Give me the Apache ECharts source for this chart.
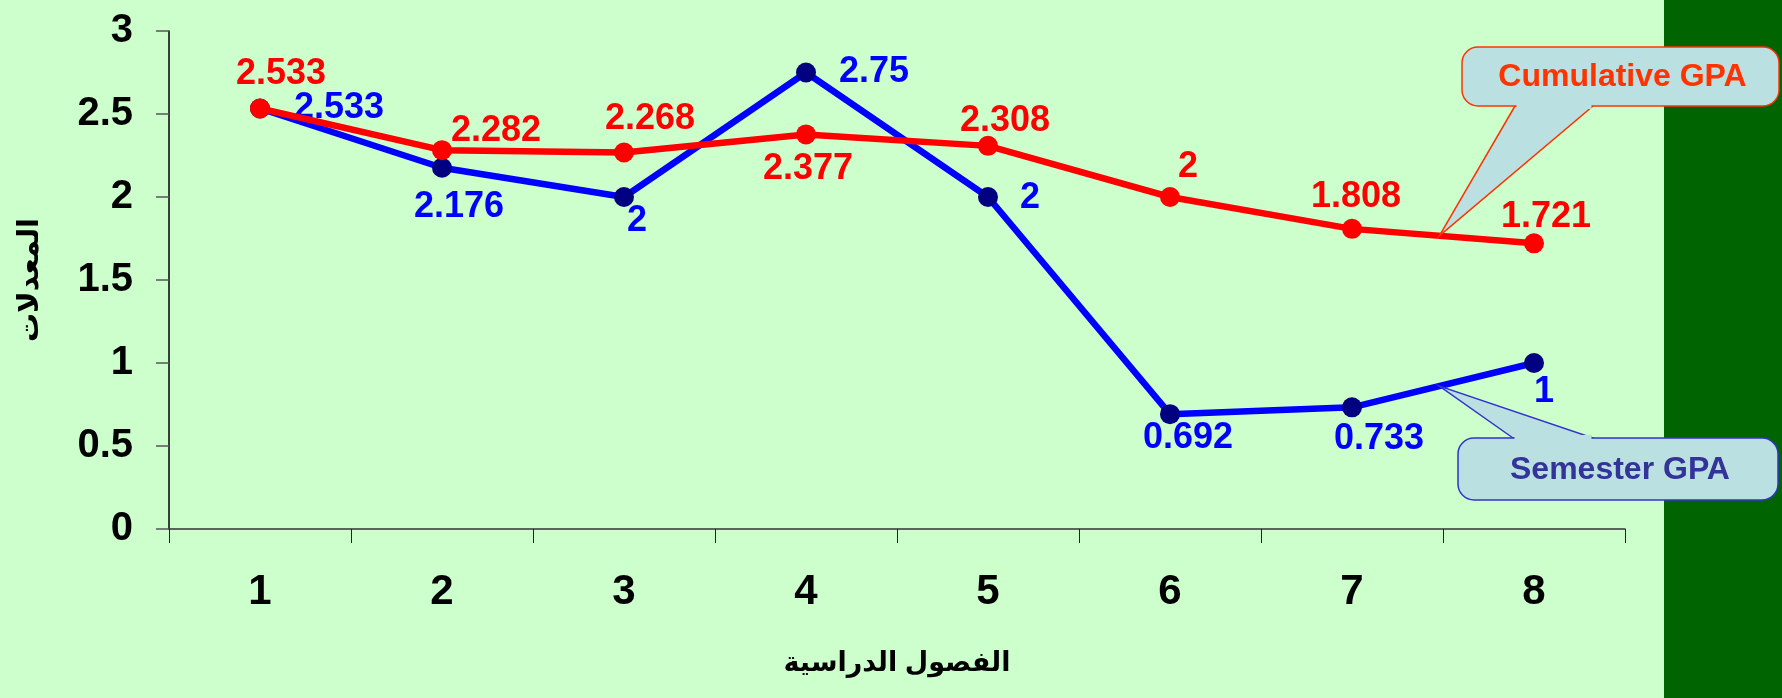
<!DOCTYPE html>
<html><head><meta charset="utf-8">
<script src="https://cdn.jsdelivr.net/npm/echarts@6/dist/echarts.min.js"></script>
<style>html,body{margin:0;padding:0;background:#CCFFCC}#c{width:1782px;height:698px}</style>
</head><body><div id="c"></div>
<script>
// ---- data ----
const semesters = ['1', '2', '3', '4', '5', '6', '7', '8'];
const semesterGPA = [2.533, 2.176, 2, 2.75, 2, 0.692, 0.733, 1];
const cumulativeGPA = [2.533, 2.282, 2.268, 2.377, 2.308, 2, 1.808, 1.721];
const seriesNames = ['Semester GPA', 'Cumulative GPA'];
const xAxisTitle = 'الفصول الدراسية';
const yAxisTitle = 'المعدلات';
const yMin = 0, yMax = 3, yStep = 0.5;

// ---- layout (label offsets from each point, px) ----
const semLabelOffsets = [[79, 0], [17, 39], [13, 24], [68, 0], [42, 1], [18, 24], [27, 32], [10, 29]];
const cumLabelOffsets = [[21, -34], [54, -19], [26, -33], [2, 35], [17, -25], [18, -30], [4, -32], [12, -26]];

const FONT = 'Arial, "Liberation Sans", sans-serif';
const chart = echarts.init(document.getElementById('c'), null, {renderer: 'canvas'});

function mkData(vals, offs) {
  return vals.map((v, i) => ({value: v, label: {offset: offs[i]}}));
}

const option = {
  animation: false,
  backgroundColor: '#CCFFCC',
  grid: {left: 169, right: 157, top: 31, bottom: 169},
  xAxis: {
    type: 'category',
    data: semesters,
    boundaryGap: true,
    axisLine: {lineStyle: {color: '#333', width: 1.5}},
    axisTick: {show: true, alignWithLabel: false, length: 14, lineStyle: {color: '#222', width: 1}},
    axisLabel: {color: '#000', fontSize: 42, fontWeight: 'bold', fontFamily: '"Liberation Sans Narrow", "Arial Narrow", ' + FONT, margin: 42},
    name: xAxisTitle,
    nameLocation: 'middle',
    nameGap: 121,
    nameTextStyle: {color: '#000', fontSize: 27, fontWeight: 'bold', fontFamily: FONT + ', "DejaVu Sans"'},
    splitLine: {show: false}
  },
  yAxis: {
    type: 'value',
    min: yMin, max: yMax, interval: yStep,
    axisLine: {show: true, lineStyle: {color: '#000', width: 1.5}},
    axisTick: {show: true, length: 13, lineStyle: {color: '#555', width: 1.5}},
    axisLabel: {color: '#000', fontSize: 40, fontWeight: 'bold', fontFamily: FONT, margin: 36},
    splitLine: {show: false},
    name: yAxisTitle,
    nameLocation: 'middle',
    nameRotate: 90,
    nameGap: 125,
    nameTextStyle: {color: '#000', fontSize: 29, fontWeight: 'bold', fontFamily: FONT + ', "DejaVu Sans"'}
  },
  series: [
    {
      name: seriesNames[0], type: 'line', data: mkData(semesterGPA, semLabelOffsets),
      symbol: 'circle', symbolSize: 20, z: 2,
      lineStyle: {color: '#0000FF', width: 6.5},
      itemStyle: {color: '#000080'},
      label: {show: true, position: 'inside', color: '#0000FF', fontSize: 36, fontWeight: 'bold', fontFamily: FONT}
    },
    {
      name: seriesNames[1], type: 'line', data: mkData(cumulativeGPA, cumLabelOffsets),
      symbol: 'circle', symbolSize: 20, z: 3,
      lineStyle: {color: '#FF0000', width: 6.5},
      itemStyle: {color: '#FF0000'},
      label: {show: true, position: 'inside', color: '#FF0000', fontSize: 36, fontWeight: 'bold', fontFamily: FONT}
    }
  ]
};
chart.setOption(option);

// callout tips computed from the data through the chart's own scales
function tipOn(series, i, t) {
  const a = chart.convertToPixel({gridIndex: 0}, [i, series[i]]);
  const b = chart.convertToPixel({gridIndex: 0}, [i + 1, series[i + 1]]);
  return [a[0] + (b[0] - a[0]) * t, a[1] + (b[1] - a[1]) * t];
}

function callout(box, base, tip, pointerDown, stroke, text, textColor) {
  const [x0, y0, x1, y1] = box;
  const by = pointerDown ? y1 : y0;
  const fill = '#BAE0E2';
  return [
    {type: 'polygon', z: 100, shape: {points: [[base[0], by], tip, [base[1], by]]},
      style: {fill: fill, stroke: stroke, lineWidth: 1.5}},
    {type: 'rect', z: 101, shape: {x: x0, y: y0, width: x1 - x0, height: y1 - y0, r: 16},
      style: {fill: fill, stroke: stroke, lineWidth: 1.5}},
    {type: 'rect', z: 102, shape: {x: base[0] + 1.5, y: by - 3, width: base[1] - base[0] - 3, height: 6},
      style: {fill: fill}},
    {type: 'text', z: 103, x: (x0 + x1) / 2 + 2, y: (y0 + y1) / 2 + 1,
      style: {text: text, fill: textColor, font: 'bold 32px ' + FONT, align: 'center', verticalAlign: 'middle'}}
  ];
}

const cumTip = tipOn(cumulativeGPA, 6, 0.48);
const semTip = tipOn(semesterGPA, 6, 0.48);

chart.setOption({
  graphic: [
    {type: 'rect', z: -1, shape: {x: 1664, y: 0, width: 118, height: 698}, style: {fill: '#006400'}},
    ...callout([1462, 47, 1779, 106], [1515, 1593], cumTip, true, '#FF3300', seriesNames[1], '#FF3300'),
    ...callout([1458, 438, 1778, 500], [1513, 1593], semTip, false, '#3333CC', seriesNames[0], '#333399')
  ]
});
</script>
</body></html>
